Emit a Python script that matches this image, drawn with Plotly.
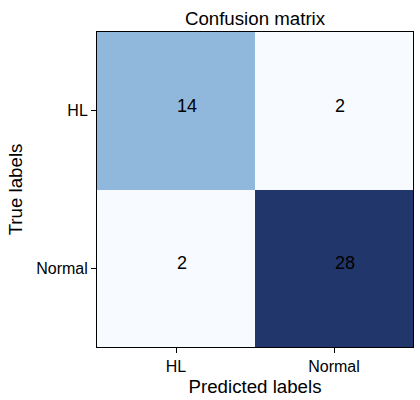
import plotly.graph_objects as go

pred_labels = ["HL", "Normal"]
true_labels = ["HL", "Normal"]
counts = [[14, 2], [2, 28]]

colorscale = [[0.0, "#f7faff"], [12/26, "#8fb8dc"], [1.0, "#21366b"]]

font = "Liberation Sans, Arial, sans-serif"

fig = go.Figure(go.Heatmap(
    z=counts, x=pred_labels, y=true_labels,
    colorscale=colorscale, showscale=False, hoverinfo="skip",
))

for i, tl in enumerate(true_labels):
    for j, pl in enumerate(pred_labels):
        fig.add_annotation(
            x=pl, y=tl, text=str(counts[i][j]), showarrow=False,
            xanchor="left", yanchor="bottom", xshift=-1, yshift=-7,
            font=dict(size=18, color="black", family=font),
        )

axis_common = dict(
    showline=True, linecolor="black", linewidth=1, mirror=True,
    ticks="outside", ticklen=5, tickcolor="black",
    tickfont=dict(size=16, color="black", family=font),
    showgrid=False, zeroline=False,
)
fig.update_layout(
    width=420, height=400,
    margin=dict(l=97, r=7, t=32, b=53),
    paper_bgcolor="white", plot_bgcolor="white",
    font=dict(family=font, color="black"),
    title=dict(text="Confusion matrix", x=0.5, xref="paper", xanchor="center",
               y=1, yref="paper", yanchor="bottom", pad=dict(b=7),
               font=dict(size=18.7, color="black", family=font)),
    xaxis=dict(title=dict(text="Predicted labels", font=dict(size=18.7), standoff=5), **axis_common),
    yaxis=dict(title=dict(text="True labels", font=dict(size=18.7), standoff=8),
               autorange="reversed", **axis_common),
)
fig.write_html("out.html")
